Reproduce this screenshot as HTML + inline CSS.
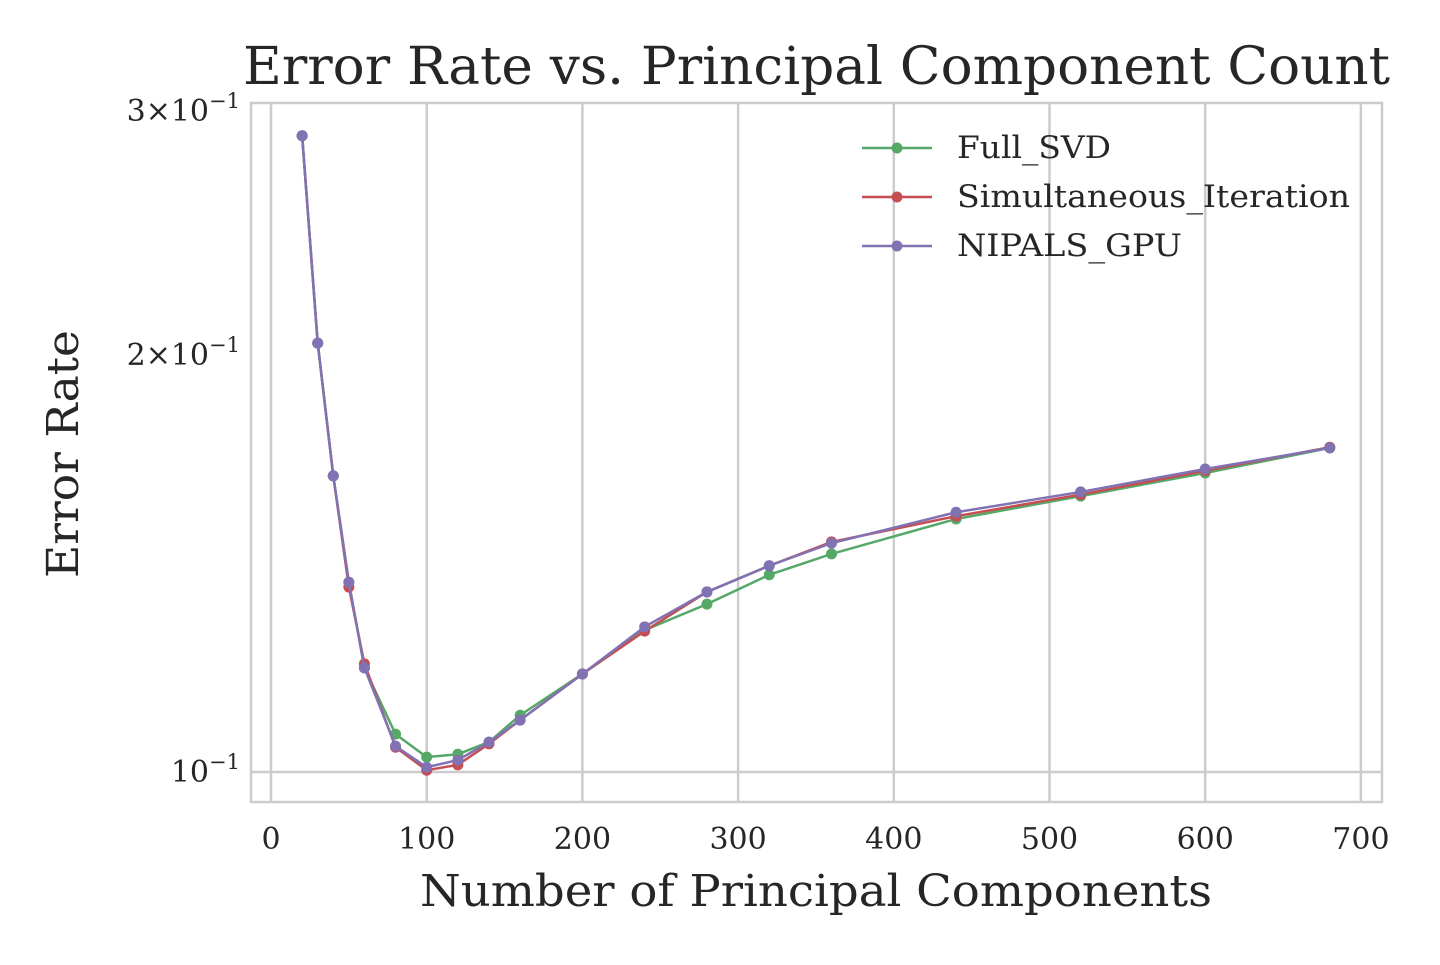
<!DOCTYPE html>
<html><head><meta charset="utf-8"><style>
body{margin:0;background:#fff;}
svg text{font-family:"DejaVu Serif","Liberation Serif",serif;fill:#262626;}
</style></head><body>
<svg id="chart" width="1440" height="960" xmlns="http://www.w3.org/2000/svg">
<rect width="1440" height="960" fill="#fff"/>
<text x="243" y="84" font-size="52" textLength="1147" lengthAdjust="spacingAndGlyphs">Error Rate vs. Principal Component Count</text>
<g id="grid"></g>
<rect x="251" y="103" width="1131" height="699" fill="none" stroke="#cccccc" stroke-width="2.5"/>
<g id="ticks"></g>
<g id="series"></g>
<text x="420" y="906" font-size="44" textLength="792" lengthAdjust="spacingAndGlyphs">Number of Principal Components</text>
<text transform="translate(78,578) rotate(-90)" font-size="44" textLength="248" lengthAdjust="spacingAndGlyphs">Error Rate</text>
<g id="legend"></g>
</svg>
<script>
const xs=[20,30,40,50,60,80,100,120,140,160,200,240,280,320,360,440,520,600,680];
const fullSVD=[0.288,0.204,0.1636,0.1371,0.1189,0.1065,0.1025,0.1030,0.1051,0.1099,0.1177,0.1266,0.1322,0.1388,0.1437,0.1523,0.1582,0.1644,0.1714];
const simIter=[0.288,0.204,0.1636,0.1360,0.1197,0.1042,0.1003,0.1012,0.1048,0.1090,0.1177,0.1264,0.1349,0.1409,0.1466,0.1530,0.1586,0.1650,0.1716];
const nipals=[0.288,0.204,0.1636,0.1371,0.1189,0.1044,0.1008,0.1020,0.1051,0.1090,0.1177,0.1273,0.1349,0.1409,0.1463,0.1540,0.1593,0.1655,0.1714];
const seriesNames=["Full_SVD","Simultaneous_Iteration","NIPALS_GPU"];
const seriesColors=["#55a868","#c44e52","#8172b3"];
const legendWidths=[154,393,225];
const xTicks=[0,100,200,300,400,500,600,700];
const NS="http://www.w3.org/2000/svg";
function X(v){return 271+(v/100)*155.7;}
function Y(v){return 772-Math.log10(v/0.1)*1385;}
function mk(tag,attrs,parent){const e=document.createElementNS(NS,tag);for(const k in attrs)e.setAttribute(k,attrs[k]);parent.appendChild(e);return e;}
const grid=document.getElementById('grid'),ticks=document.getElementById('ticks');
xTicks.forEach(t=>{
 const l=mk('line',{x1:X(t),x2:X(t),y1:103,y2:802,stroke:'#cccccc','stroke-width':2.5},grid);
 
 
 const tx=mk('text',{x:X(t),y:849,'font-size':30,'text-anchor':'middle'},ticks);
 tx.textContent=t;
 
 
});
const hl=mk('line',{x1:251,x2:1382,y1:Y(0.1),y2:Y(0.1),stroke:'#cccccc','stroke-width':2.5},grid);


[[0.1,"10","−1"],[0.2,"2×10","−1"],[0.3,"3×10","−1"]].forEach(d=>{
 const tx=mk('text',{x:240,y:Y(d[0])+10,'font-size':30,'text-anchor':'end'},ticks);
 tx.innerHTML=d[1]+'<tspan dy="-13" font-size="21">'+d[2]+'</tspan>';
 
 
});
const sg=document.getElementById('series');
[fullSVD,simIter,nipals].forEach((arr,i)=>{
 const g=mk('g',{},sg);
 
 
 mk('polyline',{points:arr.map((v,j)=>X(xs[j])+','+Y(v)).join(' '),fill:'none',stroke:seriesColors[i],'stroke-width':2.5},g);
 arr.forEach((v,j)=>{
  const c=mk('circle',{cx:X(xs[j]),cy:Y(v),r:5.5,fill:seriesColors[i]},g);
  
  
 });
});
const lg=document.getElementById('legend');
seriesNames.forEach((n,i)=>{
 const y=148+i*49;
 const g=mk('g',{},lg);
 
 
 mk('line',{x1:862,x2:932,y1:y,y2:y,stroke:seriesColors[i],'stroke-width':2.5},g);
 mk('circle',{cx:897,cy:y,r:5.5,fill:seriesColors[i]},g);
 const t=mk('text',{x:957,y:y+10,'font-size':31,textLength:legendWidths[i],lengthAdjust:'spacingAndGlyphs'},g);
 t.textContent=n;
});
</script>
</body></html>
